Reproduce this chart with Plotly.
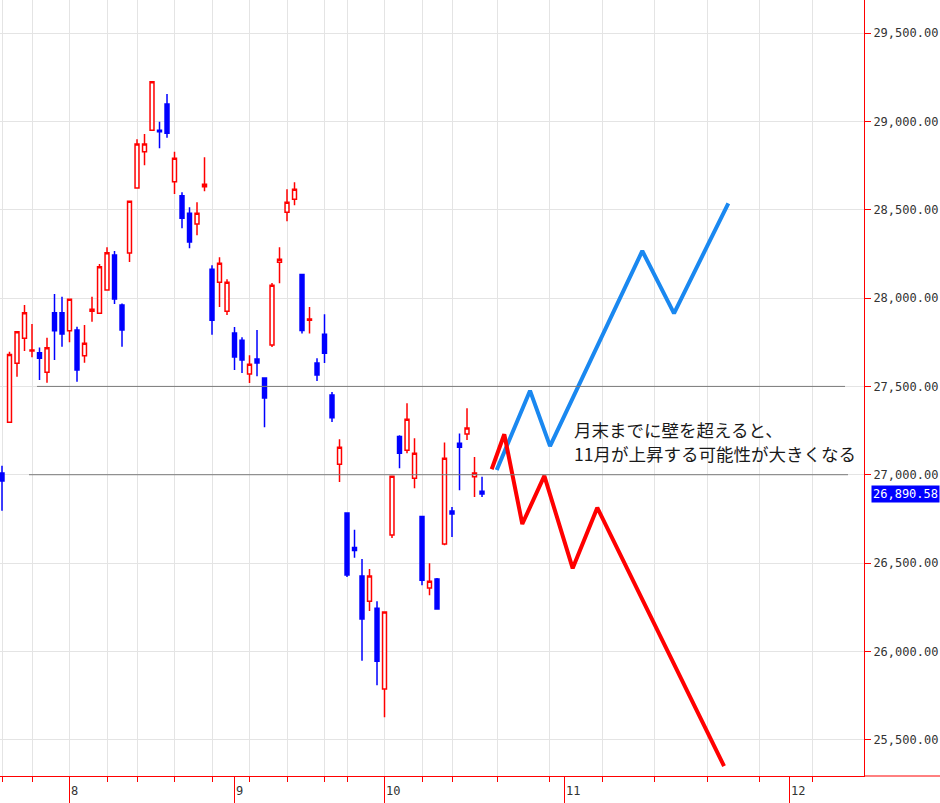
import plotly.graph_objects as go

# ---- data (trading-day index; after Oct 21 the axis continues in calendar days) ----
dates = ["07-19", "07-20", "07-21", "07-22", "07-25", "07-26", "07-27", "07-28", "07-29",
         "08-01", "08-02", "08-03", "08-04", "08-05", "08-08", "08-09", "08-10", "08-12",
         "08-15", "08-16", "08-17", "08-18", "08-19", "08-22", "08-23", "08-24", "08-25",
         "08-26", "08-29", "08-30", "08-31", "09-01", "09-02", "09-05", "09-06", "09-07",
         "09-08", "09-09", "09-12", "09-13", "09-14", "09-15", "09-16", "09-20", "09-21",
         "09-22", "09-26", "09-27", "09-28", "09-29", "09-30", "10-03", "10-04", "10-05",
         "10-06", "10-07", "10-11", "10-12", "10-13", "10-14", "10-17", "10-18", "10-19",
         "10-20", "10-21"]
opens = [27010, 27297, 27631, 27772, 27700, 27691, 27580, 27917, 27917,
         27815, 27819, 27674, 27925, 27914, 28046, 28244, 27961, 28255,
         28623, 28829, 28951, 28951, 29099, 28659, 28580, 28481, 28419,
         28630, 28164, 28090, 27926, 27802, 27762, 27570, 27655, 27547,
         27734, 28203, 28486, 28560, 28134, 27875, 27632, 27796, 27452,
         27059, 26783, 26588, 26426, 26284, 26244, 25787, 26658, 27217,
         27138, 26980, 26764, 26358, 26409, 26607, 26795, 27178, 27231,
         26988, 26906]
highs = [27051, 27696, 27810, 27961, 27853, 27721, 27776, 28023, 28008,
         27993, 27838, 27848, 28008, 28193, 28288, 28267, 27970, 28549,
         28900, 28929, 29225, 28999, 29156, 28829, 28600, 28515, 28543,
         28798, 28186, 28232, 28107, 27836, 27779, 27677, 27819, 27547,
         28085, 28288, 28617, 28656, 28134, 27949, 27660, 27909, 27469,
         27201, 26783, 26689, 26523, 26466, 26284, 26222, 26992, 27223,
         27404, 27206, 26764, 26499, 26415, 27183, 26817, 27234, 27377,
         27100, 26988]
lows = [26796, 27297, 27555, 27700, 27665, 27536, 27521, 27649, 27725,
        27750, 27527, 27634, 27866, 27914, 28046, 27967, 27725, 28204,
        28623, 28752, 28951, 28848, 28908, 28589, 28395, 28283, 28356,
        28605, 27792, 27949, 27904, 27593, 27576, 27520, 27558, 27269,
        27723, 28084, 28435, 28526, 27800, 27800, 27530, 27632, 27299,
        26959, 26421, 26530, 25947, 26228, 25808, 25627, 26641, 27036,
        27121, 26923, 26374, 26318, 26239, 26601, 26647, 26912, 27196,
        26874, 26874]
closes = [26964, 27680, 27810, 27917, 27706, 27659, 27719, 27815, 27797,
          27993, 27593, 27744, 27937, 28178, 28257, 27995, 27819, 28549,
          28872, 28872, 29225, 28942, 28933, 28792, 28452, 28317, 28481,
          28645, 27875, 28198, 28090, 27666, 27649, 27626, 27632, 27434,
          28073, 28220, 28543, 28617, 27817, 27882, 27565, 27688, 27322,
          27156, 26432, 26571, 26183, 26426, 25944, 26222, 26992, 27121,
          27314, 27121, 26402, 26397, 26239, 27093, 26778, 27156, 27264,
          27010, 26890.58]
xi = list(range(len(dates)))

# scenario lines (x in axis index units, y in price)
up_x = [65.96, 70.4, 73.07, 85.37, 89.6, 96.84]
up_y = [27027, 27476, 27162, 28267, 27914, 28537]
down_x = [65.29, 66.97, 69.37, 72.31, 76.09, 79.37, 96.27]
down_y = [27031, 27229, 26721, 26993, 26470, 26813, 25350]

# horizontal "wall" levels
levels = [27500, 27000]
level_start = [4.67, 3.6]
level_end = [112.4, 112.8]

# axes
month_ticks = [9, 31, 51, 75, 105]
month_labels = ["8", "9", "10", "11", "12"]
week_ticks = [0, 4, 9, 14, 18, 23, 28, 33, 38, 43, 46, 51, 56, 60, 66, 73, 80, 87, 94, 101, 108]
price_ticks = [25500, 26000, 26500, 27000, 27500, 28000, 28500, 29000, 29500]
last_price = 26890.58

note_lines = ["月末までに壁を超えると、", "11月が上昇する可能性が大きくなる"]

# ---- figure ----
fig = go.Figure()
fig.add_trace(go.Candlestick(
    x=xi, open=opens, high=highs, low=lows, close=closes,
    increasing=dict(line=dict(color="#ff0000", width=1.5), fillcolor="#ffffff"),
    decreasing=dict(line=dict(color="#0000ff", width=1.5), fillcolor="#0000ff"),
    whiskerwidth=0, hoverinfo="skip", showlegend=False))

fig.add_trace(go.Scatter(x=up_x, y=up_y, mode="lines",
                         line=dict(color="#1a88f0", width=4), hoverinfo="skip"))
fig.add_trace(go.Scatter(x=down_x, y=down_y, mode="lines",
                         line=dict(color="#ff0000", width=4), hoverinfo="skip"))

for lv, s, e in zip(levels, level_start, level_end):
    fig.add_shape(type="line", xref="x", yref="y", x0=s, x1=e, y0=lv, y1=lv,
                  line=dict(color="#7a7a7a", width=1), layer="above")

# extend x-axis line into the right margin
fig.add_shape(type="line", xref="paper", yref="paper", x0=1, x1=1.1, y0=0, y1=0,
              line=dict(color="#ff0000", width=1))

for t, lab in zip(month_ticks, month_labels):
    fig.add_annotation(x=t, xref="x", y=0, yref="paper", text=lab, showarrow=False,
                       xanchor="left", yanchor="top", xshift=-1, yshift=-6,
                       font=dict(family="DejaVu Sans Mono", size=12, color="#333333"))

fig.add_annotation(x=1, xref="paper", y=last_price, yref="y", text=f"{last_price:,.2f}",
                   showarrow=False, xanchor="left", yanchor="middle", xshift=7,
                   bgcolor="#0000ff", borderpad=1,
                   font=dict(family="DejaVu Sans Mono", size=12, color="#ffffff"))

fig.add_annotation(x=572 / 864, xref="paper", y=1 - 429 / 776, yref="paper", text=note_lines[0],
                   showarrow=False, xanchor="left", yanchor="middle",
                   font=dict(family="Noto Sans CJK JP", size=17.5, color="#1a1a1a"))
fig.add_annotation(x=572 / 864, xref="paper", y=1 - 453.5 / 776, yref="paper", text=note_lines[1],
                   showarrow=False, xanchor="left", yanchor="middle",
                   font=dict(family="Noto Sans CJK JP", size=17.5, color="#1a1a1a"))

fig.update_layout(
    width=940, height=803,
    margin=dict(l=0, r=76, t=0, b=27),
    paper_bgcolor="#ffffff", plot_bgcolor="#ffffff",
    showlegend=False, hovermode=False,
    boxgap=0.25,
    xaxis=dict(range=[-0.267, 114.93], showgrid=False, zeroline=False,
               tickvals=month_ticks, ticks="outside", ticklen=27, tickcolor="#ff0000",
               tickwidth=1, showticklabels=False,
               showline=True, linecolor="#ff0000", linewidth=1,
               rangeslider=dict(visible=False),
               minor=dict(tickvals=week_ticks, ticks="outside", ticklen=5,
                          tickcolor="#ff0000", showgrid=True, gridcolor="#e4e4e4", gridwidth=1)),
    yaxis=dict(side="right", range=[25294, 29688], tickvals=price_ticks, tickformat=",.2f",
               ticks="outside", ticklen=6, tickcolor="#ff0000", ticklabelstandoff=0,
               showline=True, linecolor="#ff0000", linewidth=1,
               showgrid=True, gridcolor="#e4e4e4", gridwidth=1, zeroline=False,
               tickfont=dict(family="DejaVu Sans Mono", size=12, color="#333333")),
)

fig.write_html("out.html", config={"displayModeBar": False, "staticPlot": True},
               post_script="document.body.style.margin='0';")
